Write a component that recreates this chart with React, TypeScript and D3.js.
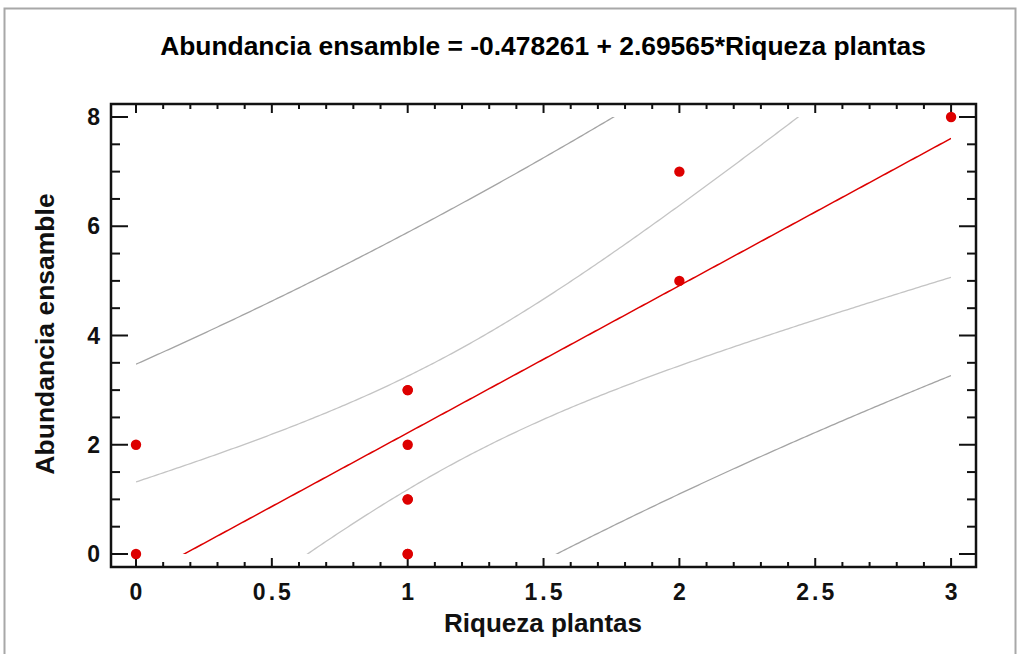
import React from "react";
import * as d3 from "d3";

const xValues = [0, 0, 1, 1, 1, 1, 1, 1, 1, 2, 2, 3];
const yValues = [0, 2, 0, 0, 1, 1, 2, 3, 3, 5, 7, 8];
const xTicks = [0, 0.5, 1, 1.5, 2, 2.5, 3];
const xTickLabels = ["0", "0.5", "1", "1.5", "2", "2.5", "3"];
const yTicks = [0, 2, 4, 6, 8];
const yTickLabels = ["0", "2", "4", "6", "8"];
const titleText = "Abundancia ensamble = -0.478261 + 2.69565*Riqueza plantas";
const xLabel = "Riqueza plantas";
const yLabel = "Abundancia ensamble";
const tCrit = 2.228139; // t(0.975, df = 10)

const W = 1017;
const H = 654;
const L = 111, R = 976, T = 104, B = 567;

export default function App() {
  const x = d3.scaleLinear().domain([-0.092, 3.0917]).range([L, R]);
  const y = d3.scaleLinear().domain([-0.238, 8.238]).range([B, T]);

  const n = xValues.length;
  const mx = d3.mean(xValues)!;
  const my = d3.mean(yValues)!;
  const sxx = d3.sum(xValues, (v) => (v - mx) ** 2);
  const sxy = d3.sum(xValues, (v, i) => (v - mx) * (yValues[i] - my));
  const b = sxy / sxx;
  const a = my - b * mx;
  const sse = d3.sum(xValues, (v, i) => (yValues[i] - (a + b * v)) ** 2);
  const s = Math.sqrt(sse / (n - 2));

  const xs = d3.range(0, 3.0001, 0.01);
  const fit = (v: number) => a + b * v;
  const hw = (v: number, pred: boolean) =>
    tCrit * s * Math.sqrt((pred ? 1 : 0) + 1 / n + (v - mx) ** 2 / sxx);

  const mk = (f: (v: number) => number) =>
    d3.line<number>().x((v) => x(v)).y((v) => y(f(v)))(xs) || "";

  const fitPath = mk(fit);
  const ciU = mk((v) => fit(v) + hw(v, false));
  const ciL = mk((v) => fit(v) - hw(v, false));
  const piU = mk((v) => fit(v) + hw(v, true));
  const piL = mk((v) => fit(v) - hw(v, true));

  const xMinor = d3.range(0, 3.0001, 0.1).map((v) => Math.round(v * 10) / 10);
  const yMinor = d3.range(0, 8.0001, 0.5);

  const font = "'Liberation Sans', Arial, sans-serif";
  const ls = 3;

  return (
    <svg
      width={W}
      height={H}
      style={{ position: "absolute", left: 0, top: 0, background: "#fff" }}
    >
      <rect x={0} y={0} width={W} height={H} fill="#fff" />
      <rect x={4.5} y={8.5} width={1011} height={670} fill="none" stroke="#a8a8a8" strokeWidth={2} />
      <defs>
        <clipPath id="clipPlot">
          <rect x={x(0)} y={y(8)} width={x(3) - x(0)} height={y(0) - y(8)} />
        </clipPath>
      </defs>
      <text
        x={543}
        y={55}
        textAnchor="middle"
        fontFamily={font}
        fontWeight="bold"
        fontSize={26.4}
      >
        {titleText}
      </text>
      <g clipPath="url(#clipPlot)" fill="none">
        <path d={piU} stroke="#a4a4a4" strokeWidth={1.3} />
        <path d={piL} stroke="#a4a4a4" strokeWidth={1.3} />
        <path d={ciU} stroke="#c4c4c4" strokeWidth={1.3} />
        <path d={ciL} stroke="#c4c4c4" strokeWidth={1.3} />
        <path d={fitPath} stroke="#dd0000" strokeWidth={1.5} />
      </g>
      <g stroke="#111" strokeWidth={2}>
        {xMinor.map((v) => {
          const major = xTicks.some((t) => Math.abs(t - v) < 1e-6);
          const len = major ? 9 : 5;
          return (
            <g key={"xt" + v}>
              <line x1={x(v)} x2={x(v)} y1={B} y2={B - len} />
              <line x1={x(v)} x2={x(v)} y1={T} y2={T + len} />
            </g>
          );
        })}
        {yMinor.map((v) => {
          const major = yTicks.some((t) => Math.abs(t - v) < 1e-6);
          const len = major ? 17 : 9;
          return (
            <g key={"yt" + v}>
              <line x1={L} x2={L + len} y1={y(v)} y2={y(v)} />
              <line x1={R} x2={R - len} y1={y(v)} y2={y(v)} />
            </g>
          );
        })}
      </g>
      <rect x={L} y={T} width={R - L} height={B - T} fill="none" stroke="#111" strokeWidth={2.5} />
      <g fill="#dd0000">
        {xValues.map((v, i) => (
          <circle key={"p" + i} cx={x(v)} cy={y(yValues[i])} r={5.2} />
        ))}
      </g>
      <g fontFamily={font} fontWeight="bold" fontSize={23} fill="#111">
        {xTicks.map((v, i) => (
          <text
            key={"xl" + v}
            x={x(v) + ls / 2}
            y={600}
            textAnchor="middle"
            letterSpacing={ls}
          >
            {xTickLabels[i]}
          </text>
        ))}
        {yTicks.map((v, i) => (
          <text key={"yl" + v} x={100} y={y(v) + 8} textAnchor="end">
            {yTickLabels[i]}
          </text>
        ))}
      </g>
      <text
        x={543}
        y={632}
        textAnchor="middle"
        fontFamily={font}
        fontWeight="bold"
        fontSize={26}
        fill="#111"
      >
        {xLabel}
      </text>
      <text
        transform={`translate(54, 334) rotate(-90)`}
        textAnchor="middle"
        fontFamily={font}
        fontWeight="bold"
        fontSize={26.5}
        fill="#111"
      >
        {yLabel}
      </text>
    </svg>
  );
}
